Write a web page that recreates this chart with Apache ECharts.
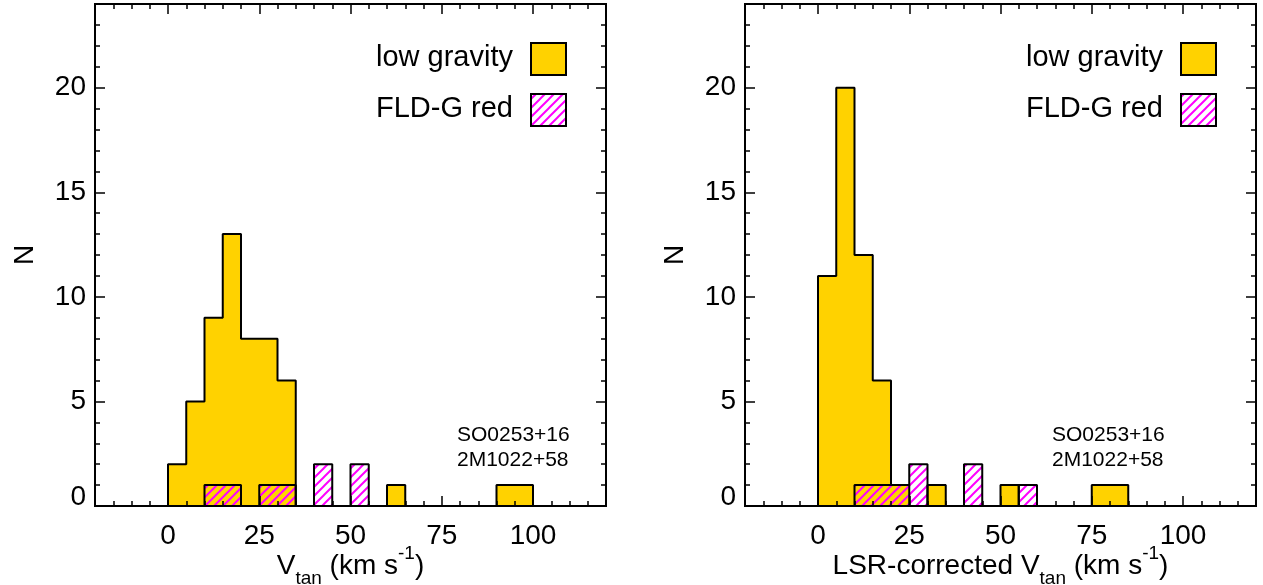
<!DOCTYPE html>
<html>
<head>
<meta charset="utf-8">
<script src="https://cdn.jsdelivr.net/npm/echarts@6/dist/echarts.min.js"></script>
<style>
html, body { margin: 0; padding: 0; background: #fff; }
#main { width: 1263px; height: 585px; }
</style>
</head>
<body>
<div id="main"></div>
<script>
// histogram counts, bins 5 km/s wide starting at 0
var binWidth = 5;
var lowGravity    = [2, 5, 9, 13, 8, 8, 6, 0, 0, 0, 0, 0, 1, 0, 0, 0, 0, 0, 1, 1];
var fldRed        = [0, 0, 1, 1, 0, 1, 1, 0, 2, 0, 2];
var lowGravityLSR = [11, 20, 12, 6, 1, 0, 1, 0, 0, 0, 1, 0, 0, 0, 0, 1, 1];
var fldRedLSR     = [0, 0, 1, 1, 1, 2, 0, 0, 2, 0, 0, 1];

var xMajorTicks = [0, 25, 50, 75, 100];
var yMajorTicks = [0, 5, 10, 15, 20];
var legendNames = ['low gravity', 'FLD-G red'];
var noteLines = ['SO0253+16', '2M1022+58'];

var FONT = 'Liberation Sans, Arial, Helvetica, sans-serif';
var YELLOW = '#ffd200';

function stepData(counts) {
    var pts = [[0, 0]];
    for (var i = 0; i < counts.length; i++) {
        pts.push([i * binWidth, counts[i]]);
    }
    pts.push([counts.length * binWidth, 0]);
    return pts;
}

function hatchCanvas() {
    var s = 9;
    var c = document.createElement('canvas');
    c.width = s; c.height = s;
    var ctx = c.getContext('2d');
    ctx.strokeStyle = '#ff00ff';
    ctx.lineWidth = 2;
    ctx.beginPath();
    ctx.moveTo(-1, s + 1); ctx.lineTo(s + 1, -1);
    ctx.moveTo(-1, 1); ctx.lineTo(1, -1);
    ctx.moveTo(s - 1, s + 1); ctx.lineTo(s + 1, s - 1);
    ctx.stroke();
    return c;
}
var hatch = { image: hatchCanvas(), repeat: 'repeat' };

var axisLine = { show: true, onZero: false, lineStyle: { color: '#000', width: 2 } };

function xAxes(g, title) {
    var base = { gridIndex: g, type: 'value', min: -20, max: 120, z: 5,
                 splitLine: { show: false }, axisLine: axisLine };
    var major = { inside: true, length: 10, customValues: xMajorTicks, lineStyle: { color: '#000', width: 1.5 } };
    var minor = { inside: true, length: 5, lineStyle: { color: '#000', width: 1.5 } };
    return [
        Object.assign({}, base, {
            position: 'bottom', axisTick: major,
            axisLabel: { customValues: xMajorTicks, fontSize: 28, fontFamily: FONT, color: '#000', margin: 16 },
            name: title, nameLocation: 'middle', nameGap: 38, nameMoveOverlap: false,
            nameTextStyle: {
                rich: {
                    n: { fontSize: 28, fontFamily: FONT, color: '#000', lineHeight: 44 },
                    sub: { fontSize: 19, fontFamily: FONT, color: '#000', lineHeight: 28, verticalAlign: 'bottom' },
                    sup: { fontSize: 19, fontFamily: FONT, color: '#000', lineHeight: 32, verticalAlign: 'top' }
                }
            }
        }),
        Object.assign({}, base, { position: 'bottom', interval: 5, axisTick: minor, axisLabel: { show: false } }),
        Object.assign({}, base, { position: 'top', axisTick: major, axisLabel: { show: false } }),
        Object.assign({}, base, { position: 'top', interval: 5, axisTick: minor, axisLabel: { show: false } })
    ];
}

function yAxes(g) {
    var base = { gridIndex: g, type: 'value', min: 0, max: 24, z: 5,
                 splitLine: { show: false }, axisLine: axisLine };
    var major = { inside: true, length: 10, customValues: yMajorTicks, lineStyle: { color: '#000', width: 1.5 } };
    var minor = { inside: true, length: 5, lineStyle: { color: '#000', width: 1.5 } };
    return [
        Object.assign({}, base, {
            position: 'left', axisTick: major,
            axisLabel: {
                customValues: yMajorTicks, fontSize: 28, fontFamily: FONT, color: '#000', margin: 9,
                formatter: function (v) { return v === 0 ? '{z|0}' : String(v); },
                rich: { z: { fontSize: 28, fontFamily: FONT, color: '#000', padding: [0, 0, 18, 0] } }
            },
            name: 'N', nameLocation: 'middle', nameGap: 56, nameRotate: 90, nameMoveOverlap: false,
            nameTextStyle: { fontSize: 28, fontFamily: FONT, color: '#000' }
        }),
        Object.assign({}, base, { position: 'left', interval: 1, axisTick: minor, axisLabel: { show: false } }),
        Object.assign({}, base, { position: 'right', axisTick: major, axisLabel: { show: false } }),
        Object.assign({}, base, { position: 'right', interval: 1, axisTick: minor, axisLabel: { show: false } })
    ];
}

function histSeries(g, counts, fill) {
    return {
        type: 'line', xAxisIndex: g * 4, yAxisIndex: g * 4,
        step: 'end', symbol: 'none', z: 2,
        lineStyle: { color: '#000', width: 2 },
        areaStyle: { color: fill, opacity: 1 },
        data: stepData(counts)
    };
}

function legendGraphics(boxLeft) {
    var out = [];
    var fills = [YELLOW, hatch];
    var tops = [43, 94];
    for (var i = 0; i < 2; i++) {
        out.push({ type: 'rect', z: 10,
            shape: { x: boxLeft, y: tops[i], width: 35, height: 32 },
            style: { fill: fills[i], stroke: '#000', lineWidth: 2 } });
        out.push({ type: 'text', z: 10, x: boxLeft - 18, y: tops[i] + 15,
            style: { text: legendNames[i], font: '29px ' + FONT, fill: '#000',
                     textAlign: 'right', textVerticalAlign: 'middle' } });
    }
    return out;
}

function noteGraphics(left) {
    return noteLines.map(function (t, i) {
        return { type: 'text', z: 10, x: left, y: 435 + i * 25,
            style: { text: t, font: '21px ' + FONT, fill: '#000',
                     textAlign: 'left', textVerticalAlign: 'middle' } };
    });
}

var chart = echarts.init(document.getElementById('main'), null, { renderer: 'canvas' });

var option = {
    animation: false,
    backgroundColor: '#fff',
    grid: [
        { left: 95, top: 4, width: 511, height: 502, outerBoundsMode: 'none' },
        { left: 745, top: 4, width: 511, height: 502, outerBoundsMode: 'none' }
    ],
    xAxis: xAxes(0, '{n|V}{sub|tan}{n| (km s}{sup|-1}{n|)}')
        .concat(xAxes(1, '{n|LSR-corrected V}{sub|tan}{n| (km s}{sup|-1}{n|)}')),
    yAxis: yAxes(0).concat(yAxes(1)),
    series: [
        histSeries(0, lowGravity, YELLOW),
        histSeries(0, fldRed, hatch),
        histSeries(1, lowGravityLSR, YELLOW),
        histSeries(1, fldRedLSR, hatch)
    ],
    graphic: legendGraphics(531).concat(legendGraphics(1181))
        .concat(noteGraphics(457)).concat(noteGraphics(1052))
};

chart.setOption(option);
</script>
</body>
</html>
